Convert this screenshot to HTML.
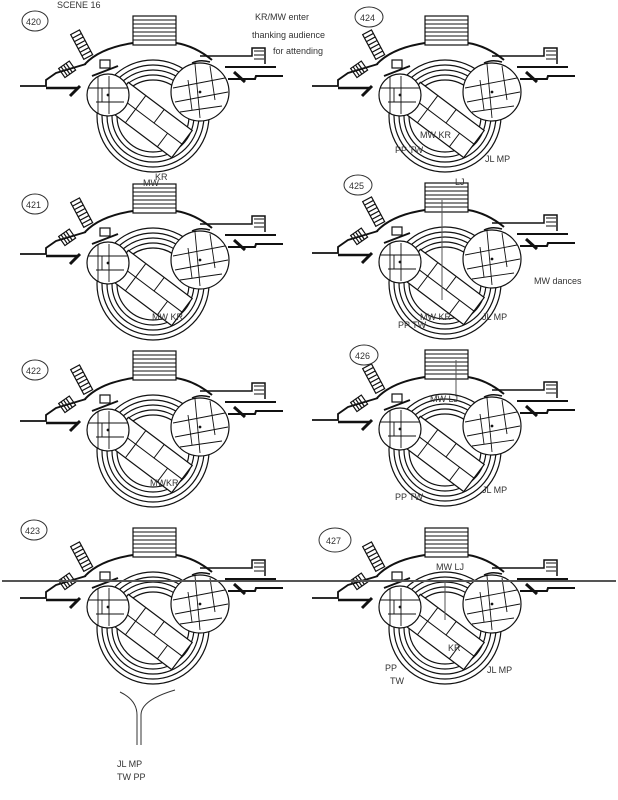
<!DOCTYPE html>
<html><head><meta charset="utf-8"><style>
html,body{margin:0;padding:0;background:#fff;}
svg{display:block;}
text{font-family:"Liberation Sans",sans-serif;fill:#333;font-size:9px;}
</style></head><body>
<svg width="618" height="800" viewBox="0 0 618 800" xmlns="http://www.w3.org/2000/svg">
<defs>
<g id="p" fill="none" stroke="#111" stroke-width="1.2">
  <rect x="133" y="16" width="43" height="29" fill="#fff"/>
  <path d="M133 20H176M133 24H176M133 28H176M133 32H176M133 36H176M133 40H176" stroke-width="1"/>
  <path d="M85 64 Q100 48 133 43 M176 43 Q195 46 212 60" stroke-width="2"/>
  <g transform="rotate(-28 83 45)"><rect x="77" y="30" width="10" height="28" fill="#fff"/><path d="M77 34H87M77 38H87M77 42H87M77 46H87M77 50H87M77 54H87"/></g>
  <g transform="rotate(-35 67 70)"><rect x="61" y="64" width="13" height="11" fill="#fff"/><path d="M64 64V75M67 64V75M70 64V75"/></g>
  <path d="M20 86H46V80L56 73L86 64" stroke-width="1.8"/>
  <path d="M46 88H78" stroke-width="2.5"/>
  <path d="M70 96L80 86" stroke-width="3"/>
  <path d="M200 56H252V48H265V64" stroke-width="1.5"/>
  <path d="M254 51H264M254 55H264M254 59H264" stroke-width="1"/>
  <path d="M225 67H276M228 79H255L256 76H283" stroke-width="2"/>
  <path d="M234 72L245 82" stroke-width="3"/>
  <circle cx="153" cy="116" r="56" fill="#fff"/>
  <circle cx="153" cy="116" r="51"/><circle cx="153" cy="116" r="46"/>
  <circle cx="153" cy="116" r="41"/><circle cx="153" cy="116" r="36" fill="#fff"/>
  <g transform="rotate(37 150 120)">
    <rect x="110" y="103" width="80" height="34" fill="#fff"/>
    <path d="M110 120H190M132 103V137M155 103V120M172 120V137" stroke-width="1"/>
  </g>
  <rect x="100" y="60" width="10" height="8" fill="#fff"/>
  <path d="M92 76L118 66" stroke-width="2"/>
  <path d="M192 63Q200 59 210 62" stroke-width="1.5"/>
  <circle cx="108" cy="95" r="21" fill="#fff"/>
  <path d="M98 76V114M109 76V114M88 88H128M96 102H124M102 88V102" stroke-width="0.9"/>
  <circle cx="108" cy="95" r="0.8" fill="#111"/>
  <circle cx="200" cy="92" r="29" fill="#fff"/>
  <path d="M173 88L225 78M175 102L228 92M180 112L222 106M195 64L200 118M210 66L215 100M188 80L192 110" stroke-width="0.9"/>
  <circle cx="200" cy="92" r="0.8" fill="#111"/>
</g>
</defs>

<use href="#p" x="0" y="0"/>
<use href="#p" x="0" y="168"/>
<use href="#p" x="0" y="335"/>
<use href="#p" x="0" y="512"/>
<use href="#p" x="292" y="0"/>
<use href="#p" x="292" y="167"/>
<use href="#p" x="292" y="334"/>
<use href="#p" x="292" y="512"/>

<path d="M2 581H616" stroke="#555" stroke-width="2"/>

<g fill="none" stroke="#333" stroke-width="1">
<ellipse cx="35" cy="21" rx="13" ry="10"/>
<ellipse cx="35" cy="204" rx="13" ry="10"/>
<ellipse cx="35" cy="370" rx="13" ry="10"/>
<ellipse cx="34" cy="530" rx="13" ry="10"/>
<ellipse cx="369" cy="17" rx="14" ry="10"/>
<ellipse cx="358" cy="185" rx="14" ry="10"/>
<ellipse cx="364" cy="355" rx="14" ry="10"/>
<ellipse cx="335" cy="540" rx="16" ry="12"/>
</g>
<text x="26" y="25">420</text><text x="26" y="208">421</text><text x="26" y="374">422</text><text x="25" y="534">423</text>
<text x="360" y="21">424</text><text x="349" y="189">425</text><text x="355" y="359">426</text><text x="326" y="544">427</text>
<text x="57" y="8" font-size="8">SCENE 16</text>
<text x="255" y="20" font-size="9">KR/MW enter</text>
<text x="252" y="38" font-size="8">thanking audience</text>
<text x="273" y="54" font-size="8">for attending</text>
<text x="155" y="180" font-size="7">KR</text><text x="143" y="186" font-size="7">MW</text>
<text x="152" y="320" font-size="7">MW KR</text>
<text x="150" y="486" font-size="7">MWKR</text>
<text x="117" y="767" font-size="9">JL MP</text><text x="117" y="780" font-size="9">TW PP</text>
<path d="M137 745V715Q137 700 120 692M141 745V715Q141 700 175 690" fill="none" stroke="#333"/>
<text x="420" y="138" font-size="7">MW KR</text>
<text x="395" y="153" font-size="7">PP TW</text><text x="485" y="162" font-size="7">JL MP</text>
<text x="455" y="185" font-size="8">LJ</text>
<text x="534" y="284" font-size="7">MW dances</text>
<text x="398" y="328" font-size="7">PP TW</text><text x="420" y="320" font-size="7">MW KR</text><text x="482" y="320" font-size="7">JL MP</text>
<text x="430" y="402" font-size="8">MW LJ</text>
<text x="395" y="500" font-size="7">PP TW</text><text x="482" y="493" font-size="7">JL MP</text>
<text x="436" y="570" font-size="7">MW LJ</text>
<text x="448" y="651" font-size="7">KR</text>
<text x="385" y="671" font-size="7">PP</text><text x="390" y="684" font-size="7">TW</text><text x="487" y="673" font-size="7">JL MP</text>
<path d="M442 200V300M456 360V395M445 580V620" stroke="#555" fill="none"/>
</svg>
</body></html>
